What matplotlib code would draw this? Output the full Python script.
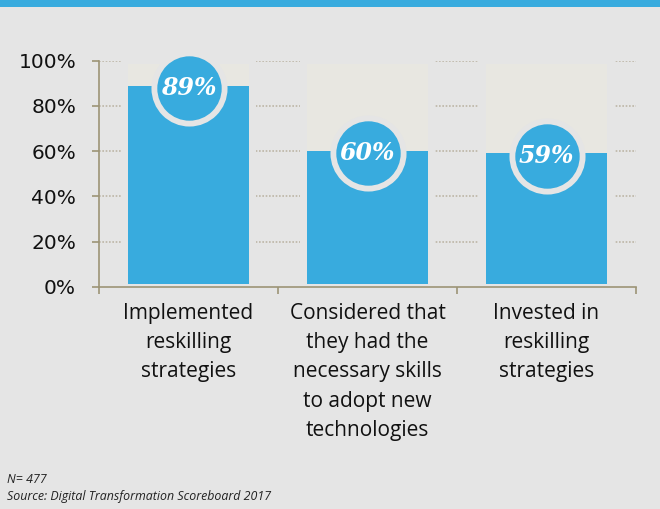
import matplotlib
matplotlib.use("Agg")
import matplotlib.pyplot as plt
from matplotlib.patches import Rectangle

# Дані
categories = ["Implemented\nreskilling\nstrategies",
              "Considered that\nthey had the\nnecessary skills\nto adopt new\ntechnologies",
              "Invested in\nreskilling\nstrategies"]
values = [89, 60, 59]
value_labels = ["89%", "60%", "59%"]
yticks = [0, 20, 40, 60, 80, 100]

bg = "#E5E5E5"
blue = "#38ABDE"
pale = "#E8E7E1"
axis_col = "#9C9476"
grid_col = "#BDB5A6"

plt.rcParams['font.family'] = ['Open Sans', 'DejaVu Sans']

fig = plt.figure(figsize=(6.6, 5.09), dpi=100, facecolor=bg)
fig.patches.append(Rectangle((0, 1 - 7 / 509), 1, 7 / 509, transform=fig.transFigure,
                             facecolor=blue, edgecolor="none"))

ax = fig.add_axes([99 / 660, 1 - 287 / 509, 537 / 660, 226.3 / 509])
ax.set_facecolor(bg)
ax.set_xlim(-0.5, 2.5)
ax.set_ylim(0, 100)

# сітка
for t in yticks[1:]:
    ax.axhline(t, color=grid_col, linestyle=(0, (1, 1)), linewidth=1.2, zorder=1)

x = list(range(len(values)))
ax.bar(x, [101] * 3, width=0.75, color=bg, zorder=2)
ax.bar(x, [97] * 3, bottom=1.5, width=0.68, color=pale, zorder=3)
ax.bar(x, [v - 1.5 for v in values], bottom=1.5, width=0.68, color=blue, zorder=4)

# кружки з відсотками
ax.scatter(x, [v - 1 for v in values], s=3000, color=bg, zorder=5, clip_on=False, linewidths=0)
ax.scatter(x, [v - 1 for v in values], s=2150, color=blue, zorder=6, clip_on=False, linewidths=0)
for xi, v, lab in zip(x, values, value_labels):
    ax.text(xi, v - 1, lab, ha="center", va="center", color="white", fontsize=17,
            family="DejaVu Serif", style="italic", fontweight="bold", zorder=7)

for s in ["top", "right"]:
    ax.spines[s].set_visible(False)
for s in ["left", "bottom"]:
    ax.spines[s].set_color(axis_col)
    ax.spines[s].set_linewidth(1.2)

ax.set_yticks(yticks)
ax.set_yticklabels([f"{t}%" for t in yticks], fontsize=14.5, color="#111111",
                   family="DejaVu Sans")
ax.tick_params(axis="y", length=5, width=1.2, color=axis_col, pad=11.5)
ax.set_xticks([-0.5, 0.5, 1.5, 2.5])
ax.set_xticklabels([])
ax.tick_params(axis="x", length=5, width=1.2, color=axis_col)

for xi, c in zip(x, categories):
    ax.text(xi, -7, c, ha="center", va="top", fontsize=15, color="#111111",
            linespacing=1.52)

fig.text(7 / 660, 1 - 483 / 509, "N= 477", fontsize=8.9, style="italic", color="#222222")
fig.text(7 / 660, 1 - 500 / 509, "Source: Digital Transformation Scoreboard 2017",
         fontsize=8.9, style="italic", color="#222222")

fig.savefig("out.png", dpi=100, facecolor=bg)
